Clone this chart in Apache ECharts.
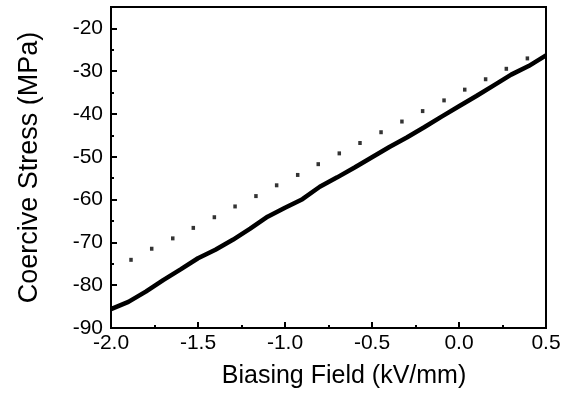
<!DOCTYPE html>
<html>
<head>
<meta charset="utf-8">
<script src="https://cdn.jsdelivr.net/npm/echarts@6/dist/echarts.min.js"></script>
<style>html,body{margin:0;padding:0;background:#fff;}#c{width:572px;height:399px;}</style>
</head>
<body>
<div id="c"></div>
<script>
// Solid curve: biasing field (kV/mm) vs coercive stress (MPa)
const solidX = [-2.0,-1.9,-1.8,-1.7,-1.6,-1.5,-1.4,-1.3,-1.2,-1.1,-1.0,-0.9,-0.8,-0.7,-0.6,-0.5,-0.4,-0.3,-0.2,-0.1,0.0,0.1,0.2,0.3,0.4,0.5];
const solidY = [-85.6,-83.9,-81.5,-78.8,-76.3,-73.7,-71.7,-69.4,-66.8,-64.0,-61.9,-59.9,-57.0,-54.8,-52.5,-50.1,-47.7,-45.5,-43.1,-40.6,-38.2,-35.8,-33.3,-30.8,-28.8,-26.3];
// Dotted curve: positions of the dots
const dotX = [-1.885,-1.766,-1.645,-1.527,-1.406,-1.287,-1.167,-1.048,-0.927,-0.809,-0.688,-0.569,-0.448,-0.328,-0.209,-0.086,0.033,0.153,0.272,0.393];
const dotY = [-74.07,-71.48,-69.06,-66.61,-64.12,-61.60,-59.18,-56.66,-54.24,-51.72,-49.20,-46.78,-44.26,-41.76,-39.32,-36.82,-34.31,-31.88,-29.44,-27.01];
const xName = 'Biasing Field (kV/mm)';
const yName = 'Coercive Stress (MPa)';

const font = 'Liberation Sans, Arial, sans-serif';
const chart = echarts.init(document.getElementById('c'), null, {renderer: 'canvas'});
chart.setOption({
  animation: false,
  backgroundColor: '#fff',
  grid: {left: 111, right: 26, top: 7, bottom: 71, show: true, borderColor: '#000', borderWidth: 2, backgroundColor: 'transparent'},
  xAxis: {
    type: 'value', min: -2, max: 0.5, interval: 0.5,
    name: xName, nameLocation: 'middle', nameGap: 36,
    nameTextStyle: {fontFamily: font, fontSize: 25, color: '#000', padding: [0,0,0,31]},
    axisLine: {onZero: false, lineStyle: {color: '#000', width: 2}},
    axisTick: {inside: true, length: 6, lineStyle: {color: '#000', width: 2}},
    minorTick: {show: true, splitNumber: 2, length: 3, lineStyle: {color: '#000', width: 2}},
    axisLabel: {fontFamily: font, fontSize: 21, color: '#000', margin: 5, formatter: v => v.toFixed(1)},
    splitLine: {show: false}
  },
  yAxis: {
    type: 'value', min: -90, max: -15, interval: 10,
    name: yName, nameLocation: 'middle', nameGap: 68, nameRotate: 90,
    nameTextStyle: {fontFamily: font, fontSize: 27, color: '#000'},
    axisLine: {show: true, onZero: false, lineStyle: {color: '#000', width: 2}},
    axisTick: {inside: true, length: 6, lineStyle: {color: '#000', width: 2}},
    minorTick: {show: true, splitNumber: 2, length: 3, lineStyle: {color: '#000', width: 2}},
    axisLabel: {fontFamily: font, fontSize: 21, color: '#000', margin: 8, showMaxLabel: false},
    splitLine: {show: false}
  },
  series: [
    {type: 'line', data: solidX.map((x, i) => [x, solidY[i]]), showSymbol: false, smooth: false,
     lineStyle: {color: '#000', width: 4.5}},
    {type: 'scatter', data: dotX.map((x, i) => [x, dotY[i]]), symbol: 'rect', symbolSize: [3.5, 4],
     itemStyle: {color: '#000'}}
  ]
});
</script>
</body>
</html>
